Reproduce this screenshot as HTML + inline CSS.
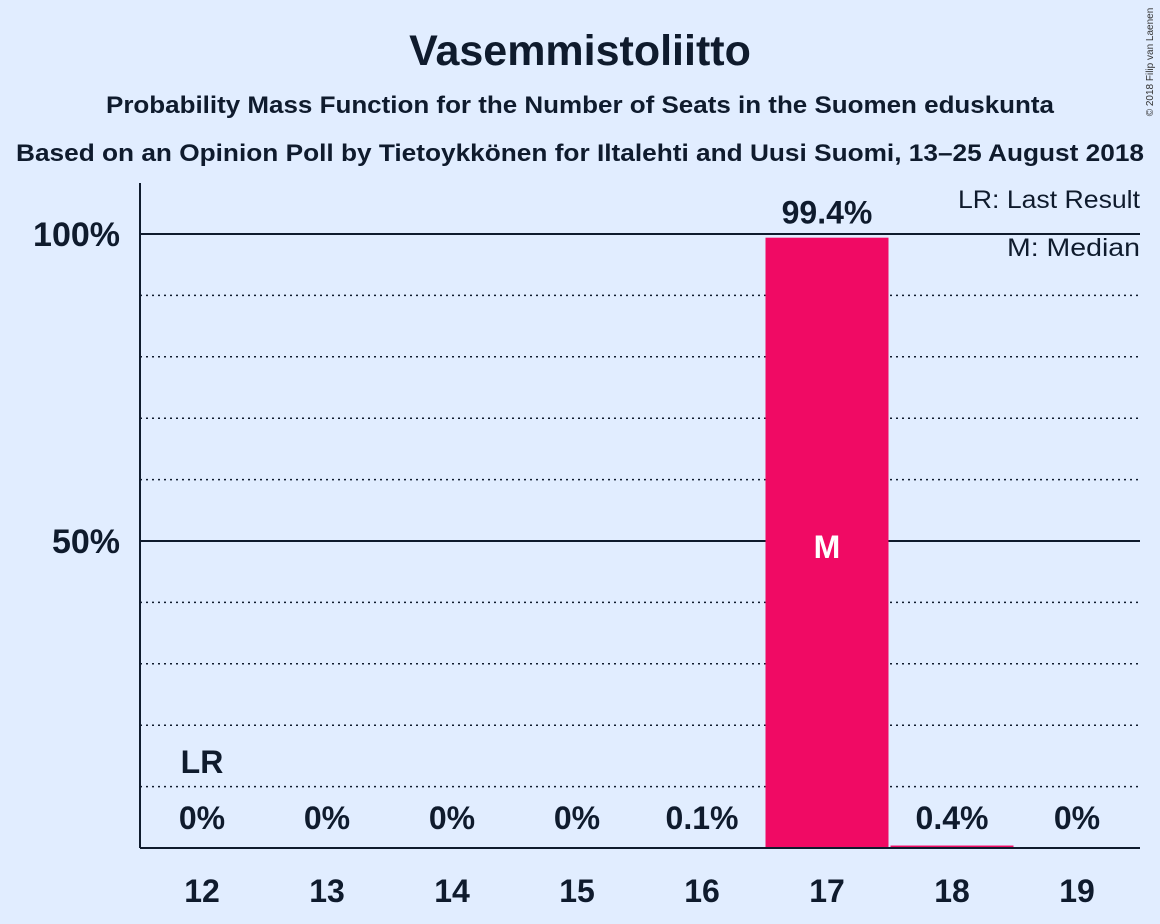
<!DOCTYPE html>
<html><head><meta charset="utf-8"><style>
body{margin:0;background:#e1edff;}
svg{display:block;font-family:"Liberation Sans",sans-serif;font-weight:bold;}
</style></head><body>
<svg id="chart" width="1160" height="924" viewBox="0 0 1160 924">
<rect width="1160" height="924" fill="#e1edff"/>
<text x="580" y="65" text-anchor="middle" font-size="43" fill="#0f1b2d">Vasemmistoliitto</text>
<text x="580" y="113" text-anchor="middle" font-size="24" textLength="948" lengthAdjust="spacingAndGlyphs" fill="#0f1b2d">Probability Mass Function for the Number of Seats in the Suomen eduskunta</text>
<text x="580" y="161" text-anchor="middle" font-size="24" textLength="1128" lengthAdjust="spacingAndGlyphs" fill="#0f1b2d">Based on an Opinion Poll by Tietoykkönen for Iltalehti and Uusi Suomi, 13–25 August 2018</text>
<text x="1153" y="62" font-size="10" font-weight="normal" fill="#333" transform="rotate(-90 1153 62)" text-anchor="middle">© 2018 Filip van Laenen</text>
<g id="grid"></g>
<g id="bars"></g>
<line x1="140" y1="183" x2="140" y2="848" stroke="#0f1b2d" stroke-width="2"/>
<line x1="140" y1="848" x2="1140" y2="848" stroke="#0f1b2d" stroke-width="2"/>
<text x="1140" y="208" text-anchor="end" font-size="25" textLength="182" lengthAdjust="spacingAndGlyphs" font-weight="normal" fill="#0f1b2d">LR: Last Result</text>
<text x="1140" y="256" text-anchor="end" font-size="25" textLength="133" lengthAdjust="spacingAndGlyphs" font-weight="normal" fill="#0f1b2d">M: Median</text>
</svg>
<script>
const categories=[12,13,14,15,16,17,18,19];
const values=[0,0,0,0,0.1,99.4,0.4,0];
const labels=["0%","0%","0%","0%","0.1%","99.4%","0.4%","0%"];
const yTicks=[50,100];
const yTickLabels=["50%","100%"];
const gridLines=[10,20,30,40,60,70,80,90];
const lastResult=12;
const median=17;
const NS="http://www.w3.org/2000/svg";
const y=v=>848-v*6.14;
const x=i=>202+i*125;
const bw=123;
function mk(tag,attrs,parent){const e=document.createElementNS(NS,tag);for(const k in attrs)e.setAttribute(k,attrs[k]);parent.appendChild(e);return e;}
const grid=document.getElementById('grid');const bars=document.getElementById('bars');const svg=document.getElementById('chart');
gridLines.forEach(g=>{const l=mk('line',{x1:140,x2:1140,y1:y(g),y2:y(g),stroke:'#0f1b2d','stroke-width':1.5,'stroke-dasharray':'2,4'},grid);

});
yTicks.forEach((t,i)=>{const l=mk('line',{x1:140,x2:1140,y1:y(t),y2:y(t),stroke:'#0f1b2d','stroke-width':2},grid);


const tx=mk('text',{x:120,y:y(t)+12,'text-anchor':'end','font-size':34,fill:'#0f1b2d'},svg);tx.textContent=yTickLabels[i];

});
categories.forEach((c,i)=>{
const h=values[i]*6.14;
const r=mk('rect',{x:x(i)-bw/2,y:848-h,width:bw,height:h,fill:'#f00a64'},bars);


const lab=mk('text',{x:x(i),y:Math.min(y(values[i])-14,829),'text-anchor':'middle','font-size':32,fill:'#0f1b2d'},svg);lab.textContent=labels[i];


const xt=mk('text',{x:x(i),y:902,'text-anchor':'middle','font-size':32,fill:'#0f1b2d'},svg);xt.textContent=c;


if(c===lastResult){const t=mk('text',{x:x(i),y:773,'text-anchor':'middle','font-size':32,fill:'#0f1b2d'},svg);t.textContent='LR';

}
if(c===median){const t=mk('text',{x:x(i),y:y(50)+17,'text-anchor':'middle','font-size':32,fill:'#ffffff'},svg);t.textContent='M';

}
});
</script>
</body></html>
